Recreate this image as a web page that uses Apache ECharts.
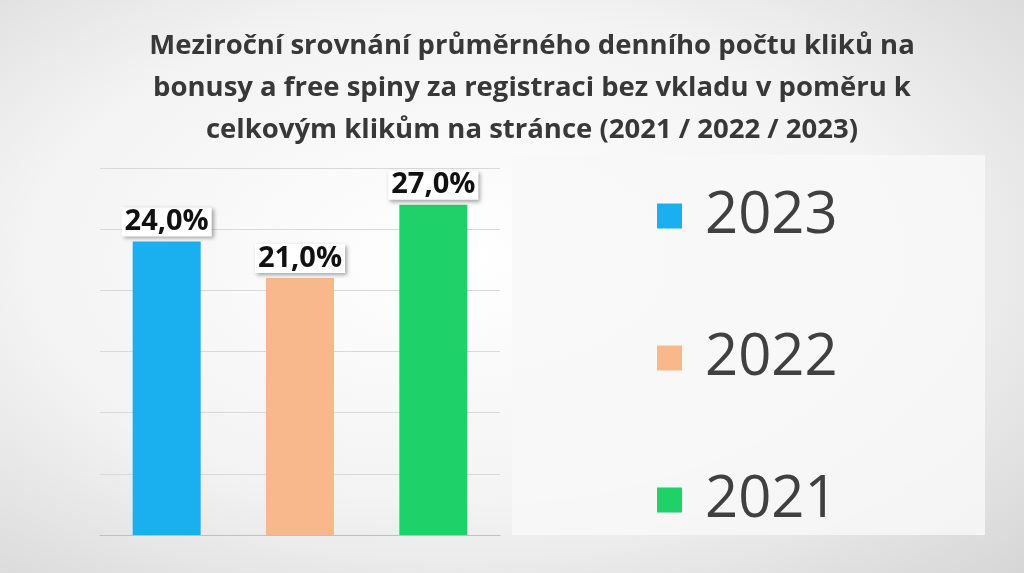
<!DOCTYPE html><html><head><meta charset="utf-8"><script src="https://cdn.jsdelivr.net/npm/echarts@6/dist/echarts.min.js"></script>
<style>html,body{margin:0;padding:0}#c{width:1024px;height:573px;background:radial-gradient(ellipse at 45% 45%,#ffffff 0%,#f3f3f3 55%,#d6d6d6 100%)}</style></head><body><div id="c"></div><script>
const categories=['2023','2022','2021'];
const values=[24.0,21.0,27.0];
const colors=['#1ab0f0','#f8b88b','#1ed168'];
const chart=echarts.init(document.getElementById('c'));
const series=categories.map((name,i)=>({
  name:name,type:'bar',stack:'s',barWidth:68,
  data:categories.map((c,j)=>j===i?values[i]:'-'),
  itemStyle:{color:colors[i]},
  label:{show:true,position:'top',distance:5,formatter:p=>p.value.toFixed(1).replace('.',',')+'%',
    fontFamily:'Open Sans',fontWeight:'bold',fontSize:29,color:'#111',backgroundColor:'#fff',padding:[0,3],
    shadowColor:'rgba(0,0,0,0.35)',shadowBlur:4,shadowOffsetX:2,shadowOffsetY:2}
}));
chart.setOption({
  title:{text:'Meziroční srovnání průměrného denního počtu kliků na\nbonusy a free spiny za registraci bez vkladu v poměru k\ncelkovým klikům na stránce (2021 / 2022 / 2023)',
    left:527,top:20,textAlign:'center',textStyle:{fontFamily:'Open Sans',fontWeight:'bold',fontSize:27.5,lineHeight:42,color:'#383838'}},
  graphic:[{type:'rect',shape:{x:512,y:155,width:473,height:380},style:{fill:'rgba(248,248,248,0.85)'},z:-1}],
  legend:{orient:'vertical',left:652,top:182,itemGap:84,itemWidth:25,itemHeight:25,icon:'rect',
    textStyle:{fontFamily:'Open Sans',fontSize:58,color:'#404040',padding:[0,0,0,18]},data:['2023','2022','2021']},
  grid:{left:100,right:524,top:168,bottom:38},
  xAxis:{type:'category',data:categories,axisLabel:{show:false},axisTick:{show:false},axisLine:{lineStyle:{color:'#bfbfbf'}}},
  yAxis:{type:'value',min:0,max:30,interval:5,axisLabel:{show:false},splitLine:{lineStyle:{color:'#d9d9d9'}}},
  series:series
});
</script></body></html>
